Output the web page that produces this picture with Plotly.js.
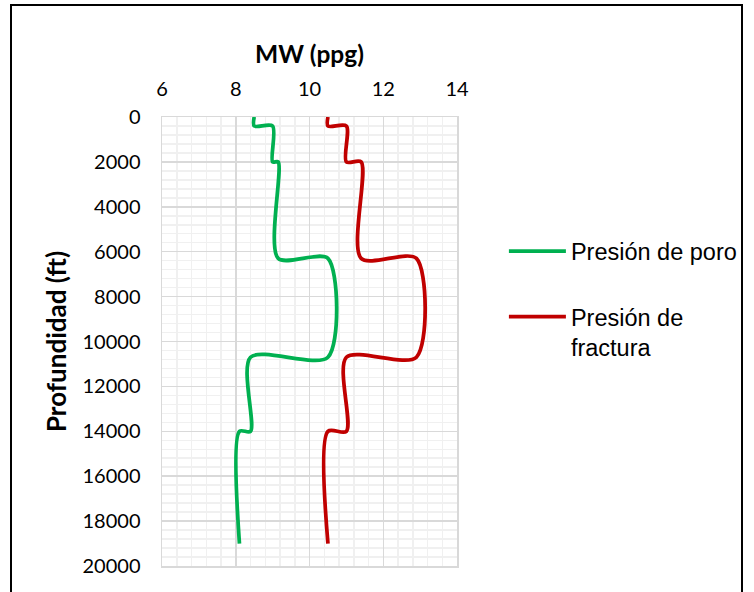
<!DOCTYPE html>
<html>
<head>
<meta charset="utf-8">
<script src="https://cdn.plot.ly/plotly-3.0.1.min.js"></script>
<style>
  html, body { margin: 0; padding: 0; background: #fff; }
  #wrap { position: relative; width: 754px; height: 592px; overflow: hidden; }
  #chart { position: absolute; left: 0; top: 0; width: 754px; height: 592px; }
  #frame { position: absolute; left: 10px; top: 4px; width: 729px; height: 620px;
           border: 2px solid #000; pointer-events: none; }
</style>
</head>
<body>
<div id="wrap">
  <div id="chart"></div>
  <div id="frame"></div>
</div>
<script>
// Depth (ft) of each point, shared by both curves
const depthFt = [0, 400, 400, 2000, 2000, 6300, 6300, 10700, 10700, 14000, 14000, 19000];
// Pore pressure, MW (ppg)
const presionPoro = [8.5, 8.5, 9.0, 9.0, 9.15, 9.15, 10.5, 10.5, 8.4, 8.4, 8.1, 8.1];
// Fracture pressure, MW (ppg)
const presionFractura = [10.5, 10.5, 11.0, 11.0, 11.4, 11.4, 12.9, 12.9, 11.0, 11.0, 10.5, 10.5];

const seriesNames = ['Presión de poro', 'Presión de<br>fractura'];
const xTickVals = [6, 8, 10, 12, 14];
const yTickVals = [0, 2000, 4000, 6000, 8000, 10000, 12000, 14000, 16000, 18000, 20000];

const traces = [
  {
    x: presionPoro, y: depthFt, name: seriesNames[0], legendgroup: 'a',
    type: 'scatter', mode: 'lines',
    line: { color: '#00B050', width: 3.75, shape: 'spline', smoothing: 0.8 }
  },
  {
    x: presionFractura, y: depthFt, name: seriesNames[1], legendgroup: 'b',
    type: 'scatter', mode: 'lines',
    line: { color: '#C00000', width: 3.75, shape: 'spline', smoothing: 0.8 }
  }
];

const tickFont = { family: 'Lato, "Liberation Sans", sans-serif', size: 20, color: '#000' };
const xTitleFont = { family: 'Lato, "Liberation Sans", sans-serif', size: 24.5, color: '#000', weight: 'bold' };
const yTitleFont = { family: 'Lato, "Liberation Sans", sans-serif', size: 26, color: '#000', weight: 'bold' };

const layout = {
  width: 754, height: 592,
  margin: { l: 162, r: 297, t: 117, b: 26, pad: 0, autoexpand: false },
  paper_bgcolor: '#fff', plot_bgcolor: '#fff',
  showlegend: true,
  legend: {
    x: 1.159, xanchor: 'left', y: 0.75, yanchor: 'top',
    font: { family: '"Liberation Sans", Arial, sans-serif', size: 23.5, color: '#000' },
    tracegroupgap: 32, valign: 'top', itemwidth: 57, bgcolor: 'rgba(0,0,0,0)'
  },
  xaxis: {
    side: 'top', range: [6, 14], tickvals: xTickVals, ticks: '',
    ticklabelstandoff: 12,
    tickfont: tickFont,
    title: { text: 'MW (ppg)', font: xTitleFont, standoff: 5 },
    showgrid: true, gridcolor: '#D9D9D9', gridwidth: 1.5,
    minor: { dtick: 0.4, showgrid: true, gridcolor: '#F0F0F0', gridwidth: 1.5 },
    showline: true, linecolor: '#D9D9D9', linewidth: 1.5, mirror: true,
    zeroline: false, fixedrange: true
  },
  yaxis: {
    range: [20000, 0], tickvals: yTickVals, tickformat: 'd', ticks: '',
    ticklabelstandoff: 16,
    tickfont: tickFont,
    title: { text: 'Profundidad (ft)', font: yTitleFont, standoff: 8 },
    showgrid: true, gridcolor: '#D9D9D9', gridwidth: 1.5,
    minor: { dtick: 400, showgrid: true, gridcolor: '#F0F0F0', gridwidth: 1.5 },
    showline: true, linecolor: '#D9D9D9', linewidth: 1.5, mirror: true,
    zeroline: false, fixedrange: true
  }
};

Plotly.newPlot('chart', traces, layout, { displayModeBar: false, staticPlot: true });
</script>
</body>
</html>
